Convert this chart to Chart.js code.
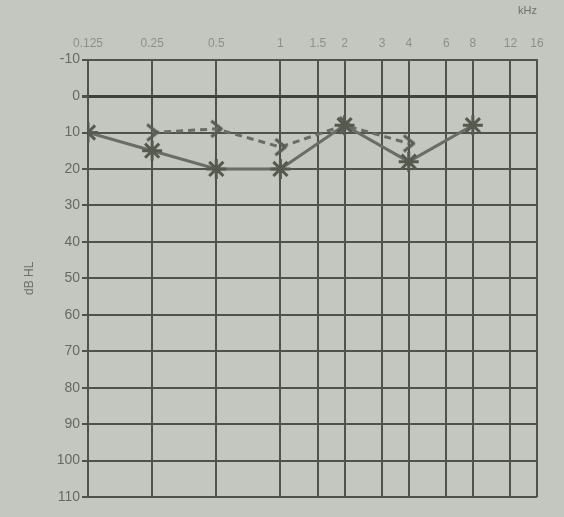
<!DOCTYPE html>
<html>
<head>
<meta charset="utf-8">
<script src="https://cdn.jsdelivr.net/npm/chart.js@4"></script>
<style>
  html, body { margin: 0; padding: 0; background: #c3c7bf; }
  #wrap { width: 564px; height: 517px; }
</style>
</head>
<body>
<div id="wrap"><canvas id="audiograma" width="564" height="517"></canvas></div>
<script>
// ---- dados do audiograma

// frequências do eixo (kHz)
const frequencias = [0.125, 0.25, 0.5, 1, 1.5, 2, 3, 4, 6, 8, 12, 16];
const rotulosFrequencias = ['0.125', '0.25', '0.5', '1', '1.5', '2', '3', '4', '6', '8', '12', '16'];

// linha cheia (X)
const freqAerea = [0.125, 0.25, 0.5, 1, 2, 4, 8];
const valoresAerea = [10, 15, 20, 20, 8, 18, 8];

// linha tracejada (>)
const freqOssea = [0.25, 0.5, 1, 2, 4];
const valoresOssea = [10, 9, 14, 8, 13];

// eixo y (dB HL)
const nivelMin = -10;
const nivelMax = 110;

// ---- marcador ">" desenhado num canvas pequeno
function criarMarcadorMaior() {
    const c = document.createElement('canvas');
    c.width = 16;
    c.height = 20;
    const g = c.getContext('2d');
    g.strokeStyle = '#5a5d55';
    g.lineWidth = 3;
    g.lineJoin = 'round';
    g.beginPath();
    g.moveTo(3, 2);
    g.lineTo(13, 10);
    g.lineTo(3, 18);
    g.stroke();
    return c;
}

const ctx = document.getElementById('audiograma').getContext('2d');

let grafico = new Chart(ctx, {
    type: 'line',
    data: {
        datasets: [{
            label: 'aérea',
            data: freqAerea.map((f, i) => ({ x: f, y: valoresAerea[i] })),
            borderColor: '#6a6d65',
            borderWidth: 3,
            pointStyle: 'star',
            pointRadius: 10,
            pointBorderWidth: 3,
            pointBorderColor: '#555950',
            fill: false
        }, {
            label: 'óssea',
            data: freqOssea.map((f, i) => ({ x: f, y: valoresOssea[i] })),
            borderColor: '#6a6d65',
            borderWidth: 3,
            borderDash: [7, 5],
            pointStyle: criarMarcadorMaior(),
            fill: false
        }]
    },
    options: {
        responsive: false,
        animation: false,
        devicePixelRatio: 1,
        layout: { padding: { left: 22, right: 27, top: 4, bottom: 20 } },
        plugins: {
            legend: { display: false },
            tooltip: { enabled: false }
        },
        scales: {
            x: {
                type: 'logarithmic',
                position: 'top',
                min: 0.125,
                max: 16,
                afterBuildTicks: (escala) => {
                    escala.ticks = frequencias.map(v => ({ value: v }));
                },
                ticks: {
                    autoSkip: false,
                    maxRotation: 0,
                    color: '#8d9089',
                    font: { family: 'Liberation Sans Narrow, Liberation Sans', size: 12 },
                    padding: 9,
                    callback: (valor) => {
                        const i = frequencias.indexOf(valor);
                        return i >= 0 ? rotulosFrequencias[i] : '';
                    }
                },
                title: {
                    display: true,
                    text: 'kHz',
                    align: 'end',
                    color: '#6e716a',
                    font: { family: 'Liberation Sans', size: 11 },
                    padding: { top: 0, bottom: 10 }
                },
                grid: {
                    color: '#50534c',
                    lineWidth: 2,
                    drawTicks: false
                },
                border: { color: '#50534c', width: 2 }
            },
            y: {
                reverse: true,
                min: nivelMin,
                max: nivelMax,
                afterFit: (escala) => { escala.width = 66; },
                ticks: {
                    stepSize: 10,
                    color: '#676a63',
                    font: { family: 'Liberation Sans Narrow, Liberation Sans', size: 14 },
                    padding: 2
                },
                title: {
                    display: true,
                    text: 'dB HL',
                    color: '#6e716a',
                    font: { family: 'Liberation Sans', size: 12 },
                    padding: { top: 0, bottom: 0 }
                },
                grid: {
                    color: (c) => c.tick && c.tick.value === 0 ? '#3f423b' : '#50534c',
                    lineWidth: (c) => c.tick && c.tick.value === 0 ? 3 : 2,
                    tickLength: 6,
                    tickColor: '#50534c'
                },
                border: { color: '#50534c', width: 2 }
            }
        }
    }
});
</script>
</body>
</html>
